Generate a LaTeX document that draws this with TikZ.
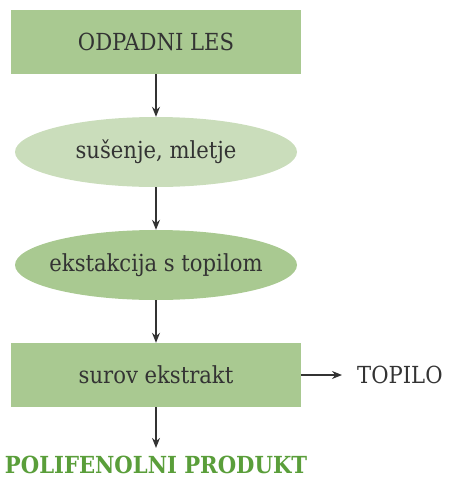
\documentclass[tikz,border=0pt]{standalone}
\usepackage{fontspec}
\setmainfont{DejaVu Serif Condensed}
\usetikzlibrary{shapes.geometric,arrows.meta}
\definecolor{boxgreen}{HTML}{A9C991}
\definecolor{lightgreen}{HTML}{CADDBB}
\definecolor{txt}{HTML}{333333}
\definecolor{prodgreen}{HTML}{5A9E3A}
\begin{document}
\begin{tikzpicture}[x=1pt,y=-1pt,
  every node/.style={text=txt,font=\fontsize{23.5}{26}\selectfont},
  rectbox/.style={rectangle,fill=boxgreen,minimum width=290pt,minimum height=64pt,inner sep=0pt},
  ellbox/.style={ellipse,minimum width=282pt,minimum height=70pt,inner xsep=-40pt,inner ysep=0pt},
  conn/.style={draw=txt,line width=1.2pt,-{Stealth[length=10pt,width=8pt]}}]
\useasboundingbox (0,0) rectangle (466,488);
\node[rectbox] (a) at (156,42) {ODPADNI LES};
\node[ellbox,fill=lightgreen] (b) at (156,152) {sušenje, mletje};
\node[ellbox,fill=boxgreen] (c) at (156,265) {ekstakcija s topilom};
\node[rectbox] (d) at (156,375) {surov ekstrakt};
\node[anchor=west,inner sep=0pt] (e) at (357,375) {TOPILO};
\node[inner sep=0pt,text=prodgreen,font=\fontsize{23.5}{26}\selectfont\bfseries] (f) at (156,465) {POLIFENOLNI PRODUKT};
\draw[conn] (a.south) -- (b.north);
\draw[conn] (b.south) -- (c.north);
\draw[conn] (c.south) -- (d.north);
\draw[conn] (d.east) -- ([xshift=-15pt]e.west);
\draw[conn] (d.south) -- ([yshift=8pt]f.north);
\end{tikzpicture}
\end{document}
